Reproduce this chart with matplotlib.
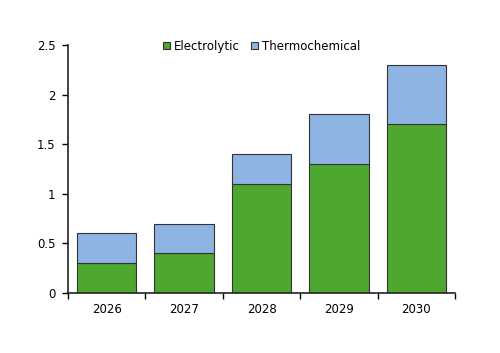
import matplotlib
matplotlib.use("Agg")
import matplotlib.pyplot as plt
import numpy as np

years = ["2026", "2027", "2028", "2029", "2030"]
electrolytic = [0.3, 0.4, 1.1, 1.3, 1.7]
thermochemical = [0.3, 0.3, 0.3, 0.5, 0.6]
yticks = [0, 0.5, 1, 1.5, 2, 2.5]
ytick_labels = ["0", "0.5", "1", "1.5", "2", "2.5"]

plt.rcParams['font.family'] = ['DejaVu Sans']
fig = plt.figure(figsize=(5.0, 3.53), dpi=100)
ax = fig.add_axes([0.136, 0.170, 0.774, 0.7025])

x = np.arange(len(years))
w = 0.77
green = "#4EA72E"
blue = "#8EB4E3"
ax.bar(x, electrolytic, w, color=green, edgecolor="#333333", linewidth=0.8, label="Electrolytic")
ax.bar(x, thermochemical, w, bottom=electrolytic, color=blue, edgecolor="#333333", linewidth=0.8, label="Thermochemical")

fs = 8.5
ax.set_xlim(-0.5, len(years) - 0.5)
ax.set_ylim(0, 2.5)
ax.set_yticks(yticks)
ax.set_yticklabels(ytick_labels, fontsize=fs)
ax.set_xticks(x)
ax.set_xticklabels(years, fontsize=fs)
ax.tick_params(axis='x', length=0, pad=7)
ax.set_xticks(np.arange(-0.5, len(years)), minor=True)
ax.tick_params(axis='x', which='minor', length=4, direction='out', width=1)
ax.tick_params(axis='y', length=4, direction='out', width=1, pad=5)

for s in ["top", "right"]:
    ax.spines[s].set_visible(False)
for s in ["left", "bottom"]:
    ax.spines[s].set_linewidth(1.2)
    ax.spines[s].set_color("#222222")

leg = ax.legend(loc="upper center", bbox_to_anchor=(0.5, 1.065), ncol=2, frameon=False,
                fontsize=fs, handlelength=0.6, handleheight=0.6, handletextpad=0.3,
                columnspacing=1.0)

fig.savefig("out.png", dpi=100)
